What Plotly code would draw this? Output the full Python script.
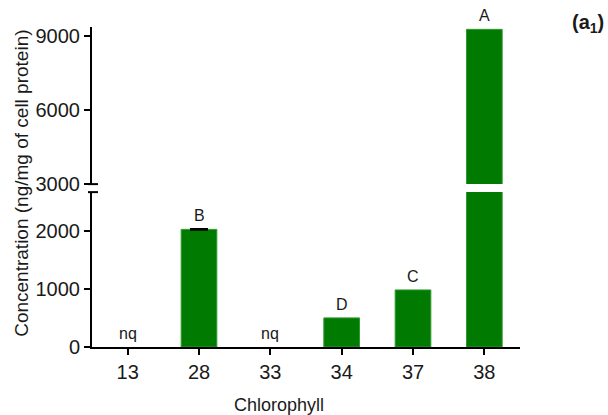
import plotly.graph_objects as go

categories = ["13", "28", "33", "34", "37", "38"]
values = [None, 2020, None, 500, 980, 9270]   # None = not quantified (nq)
errors = [None, 8, None, None, None, None]
letters = ["nq", "B", "nq", "D", "C", "A"]

lower_ticks = [0, 1000, 2000]
upper_ticks = [3000, 6000, 9000]
lower_range = [0, 2660]
upper_range = [3000, 9365]

GREEN = "#007A00"
FONT = "Liberation Sans, Arial, sans-serif"
TXT = "#1a1a1a"

fig = go.Figure()

bar_kw = dict(x=categories, y=values, width=0.5,
              marker=dict(color=GREEN, line=dict(color="#2f9a2f", width=1)),
              showlegend=False, hoverinfo="x+y")

fig.add_trace(go.Bar(**bar_kw, yaxis="y"))
fig.add_trace(go.Bar(**bar_kw, yaxis="y2"))

# error bars only where an error is known
ex = [c for c, e in zip(categories, errors) if e is not None]
ey = [v for v, e in zip(values, errors) if e is not None]
ee = [e for e in errors if e is not None]
fig.add_trace(go.Scatter(x=ex, y=ey, mode="markers", yaxis="y",
                         marker=dict(size=1, opacity=0), showlegend=False,
                         hoverinfo="skip",
                         error_y=dict(type="data", array=ee, visible=True,
                                      color="black", thickness=2, width=9)))

# letters above bars (x given as category index)
for i, (v, lab) in enumerate(zip(values, letters)):
    yv = 0 if v is None else v
    yref = "y2" if yv >= upper_range[0] else "y"
    fig.add_annotation(x=i, y=yv, xref="x", yref=yref, text=lab,
                       showarrow=False, yanchor="bottom", yshift=3,
                       font=dict(family=FONT, size=16, color=TXT))

axis_common = dict(showline=True, linecolor="black", linewidth=2,
                   ticks="outside", ticklen=6, tickwidth=2, tickcolor="black",
                   showgrid=False, zeroline=False,
                   tickfont=dict(family=FONT, size=20, color=TXT))

fig.update_layout(
    width=608, height=415,
    margin=dict(l=92, r=88, t=27, b=68),
    plot_bgcolor="white", paper_bgcolor="white",
    bargap=0.5,
    xaxis=dict(**axis_common, type="category", range=[-0.5, 5.5], anchor="y"),
    yaxis=dict(**axis_common, domain=[0, 0.484], range=lower_range,
               tickvals=lower_ticks, anchor="x"),
    yaxis2=dict(**axis_common, domain=[0.509, 1], range=upper_range,
                tickvals=upper_ticks, anchor="x"),
)

# break marks on the y axis
for yref, yv in (("y domain", 1), ("y2 domain", 0)):
    fig.add_shape(type="line", xref="paper", yref=yref,
                  x0=-4 / 428, x1=6 / 428, y0=yv, y1=yv,
                  line=dict(color="black", width=2))

# axis titles
fig.add_annotation(text="Concentration (ng/mg of cell protein)",
                   xref="paper", yref="paper", x=-70 / 428, y=0.51,
                   textangle=-90, showarrow=False, xanchor="center", yanchor="middle",
                   font=dict(family=FONT, size=19, color=TXT))
fig.add_annotation(text="Chlorophyll", xref="paper", yref="paper",
                   x=0.437, y=-0.181, showarrow=False,
                   xanchor="center", yanchor="middle",
                   font=dict(family=FONT, size=18, color=TXT))
fig.add_annotation(text="<b>(a<sub>1</sub>)</b>", xref="paper", yref="paper",
                   x=1.158, y=1.01, showarrow=False,
                   xanchor="center", yanchor="middle",
                   font=dict(family=FONT, size=20, color=TXT))

fig.write_html("out.html")
